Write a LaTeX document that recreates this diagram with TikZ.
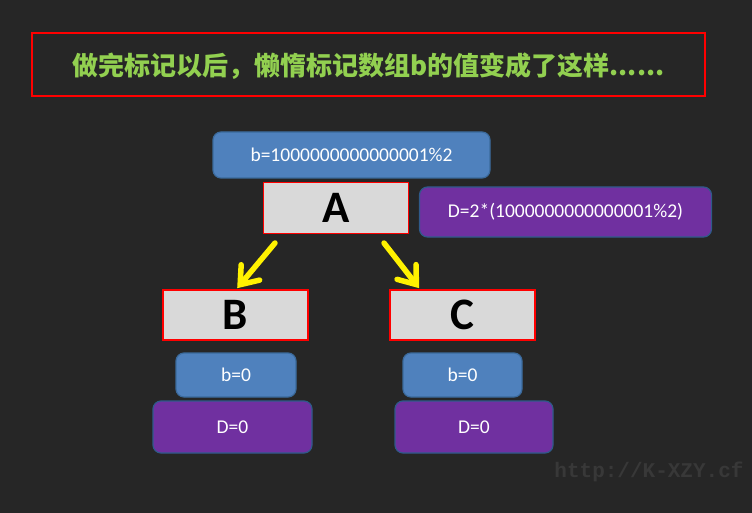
\documentclass[tikz,border=0pt]{standalone}
\usepackage{fontspec}
\setmainfont{Carlito}
\newfontfamily\cjk{Noto Sans CJK SC}
\newfontfamily\wmfont{Liberation Mono}
\usetikzlibrary{arrows.meta,calc}
\definecolor{bg}{HTML}{262626}
\definecolor{titlegreen}{HTML}{92D050}
\definecolor{bluefill}{HTML}{4F81BD}
\definecolor{blueedge}{HTML}{3B6A9C}
\definecolor{purplefill}{HTML}{7030A0}
\definecolor{purpleedge}{HTML}{2F5A8A}
\definecolor{greyfill}{HTML}{D9D9D9}
\definecolor{wmgrey}{HTML}{383838}
\tikzset{
  titlebox/.style={draw=red, line width=1.6pt, inner sep=0pt},
  letterbox/.style={draw=red, fill=greyfill, line width=1.6pt, inner sep=0pt,
    font=\fontsize{45}{48}\selectfont\bfseries, text=black},
  bluebox/.style={draw=blueedge, fill=bluefill, line width=1.2pt, rounded corners=8pt,
    inner sep=0pt, text=white, font=\fontsize{19.5}{22}\selectfont},
  purplebox/.style={draw=purpleedge, fill=purplefill, line width=1.2pt, rounded corners=8pt,
    inner sep=0pt, text=white, font=\fontsize{19.5}{22}\selectfont},
  yarrow/.style={draw=yellow, line width=5.5pt, line cap=round,
    -{Straight Barb[length=16pt, width=24pt, line width=5.5pt, line cap=round]}}
}
\begin{document}
\begin{tikzpicture}[x=1pt,y=-1pt]
\fill[bg] (0,0) rectangle (752,513);
\useasboundingbox (0,0) rectangle (752,513);
% title
\node[titlebox, minimum width=673pt, minimum height=63pt] (title) at (368.5,64.5) {};
\node[text=titlegreen, font=\cjk\bfseries\fontsize{26}{30}\selectfont, inner sep=0pt] (titletext) at (368.5,66) {做完标记以后，懒惰标记数组b的值变成了这样......};
% top boxes
\node[bluebox, minimum width=277pt, minimum height=46pt] (bA) at (351.5,155) {b=1000000000000001\%2};
\node[letterbox, minimum width=145pt, minimum height=51pt] (A) at (336,208) {A};
\node[purplebox, minimum width=292pt, minimum height=50pt] (dA) at (565.5,212) {D=2*(1000000000000001\%2)};
% children
\node[letterbox, minimum width=145pt, minimum height=50pt] (B) at (235.5,315) {B};
\node[letterbox, minimum width=145pt, minimum height=50pt] (C) at (462.5,315) {C};
\node[bluebox, minimum width=120pt, minimum height=44pt] (bB) at (236,375) {b=0};
\node[bluebox, minimum width=119pt, minimum height=44pt] (bC) at (462.5,375) {b=0};
\node[purplebox, minimum width=159pt, minimum height=52pt] (dB) at (232.5,427) {D=0};
\node[purplebox, minimum width=158pt, minimum height=52pt] (dC) at (474,427) {D=0};
% arrows
\coordinate (s1) at (275,243);
\coordinate (t1) at ($(B.north west)+(75,-1)$);
\coordinate (s2) at (384,243);
\coordinate (t2) at ($(C.north west)+(30,-1)$);
\draw[yarrow] (s1) -- (t1);
\draw[yarrow] (s2) -- (t2);
% watermark
\node[text=wmgrey, font=\wmfont\bfseries\fontsize{21}{24}\selectfont, inner sep=0pt] (wm) at (649,472) {http://K-XZY.cf};
\end{tikzpicture}
\end{document}
